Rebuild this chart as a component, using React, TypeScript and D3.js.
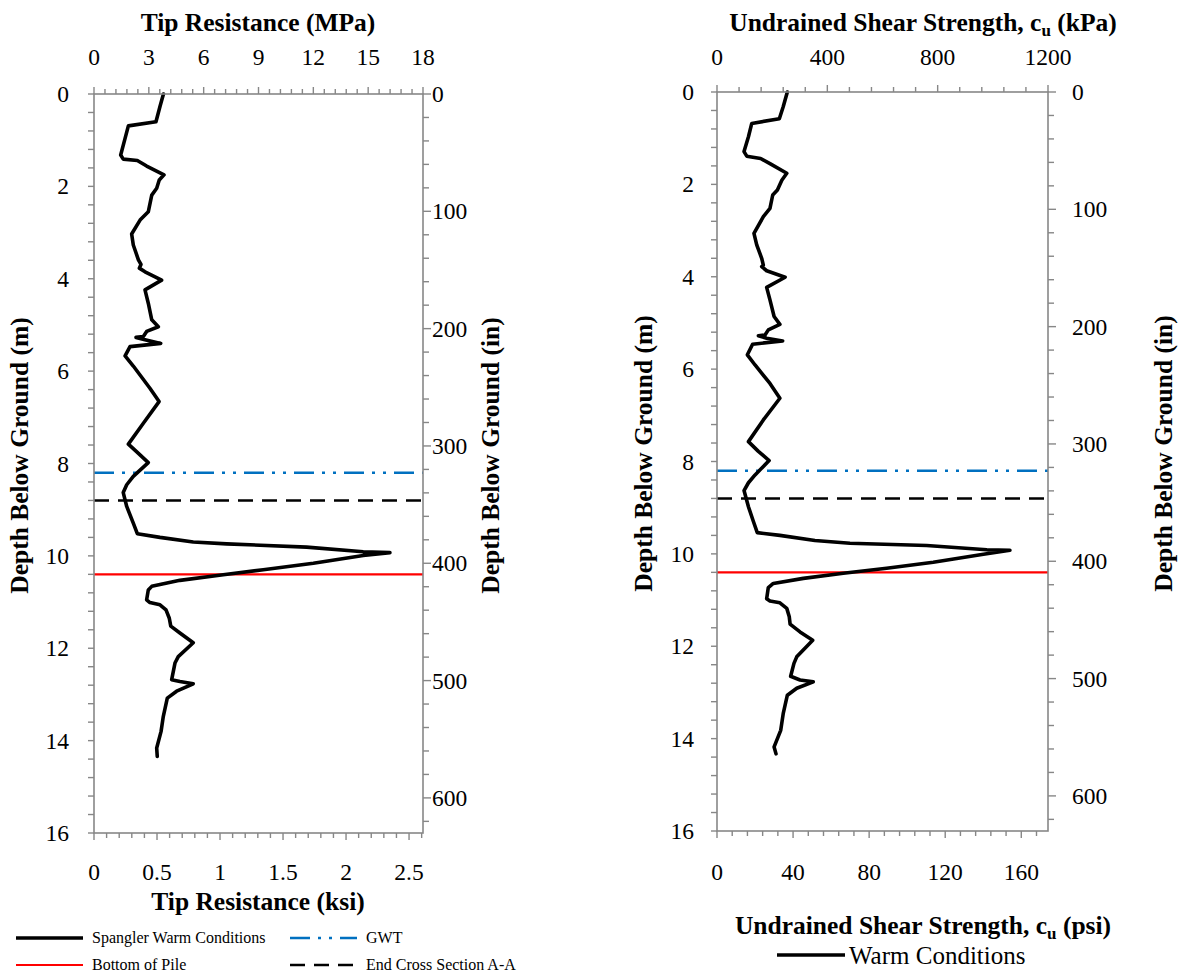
import React from 'react';
import * as d3 from 'd3';

// ---- Data ----
const tipDepth = [0.0, 0.27, 0.6, 0.69, 0.96, 1.32, 1.41, 1.44, 1.56, 1.75, 1.86, 2.04, 2.19, 2.55, 2.73, 3.03, 3.27, 3.59, 3.69, 3.77, 3.85, 4.03, 4.24, 4.53, 4.89, 5.04, 5.14, 5.25, 5.27, 5.32, 5.4, 5.47, 5.67, 5.89, 6.37, 6.66, 7.13, 7.58, 7.78, 7.98, 8.28, 8.46, 8.63, 8.93, 9.29, 9.52, 9.6, 9.7, 9.74, 9.81, 9.91, 9.93, 9.99, 10.16, 10.3, 10.41, 10.53, 10.66, 10.74, 10.95, 11.01, 11.06, 11.17, 11.35, 11.52, 11.67, 11.88, 12.18, 12.32, 12.68, 12.72, 12.77, 12.93, 13.08, 13.48, 13.8, 14.16, 14.34];
const tipMPa = [3.8, 3.61, 3.39, 1.88, 1.7, 1.46, 1.6, 2.37, 2.88, 3.83, 3.57, 3.43, 3.16, 2.97, 2.52, 2.06, 2.15, 2.43, 2.57, 2.48, 2.79, 3.7, 2.79, 2.97, 3.16, 3.52, 2.88, 2.7, 2.3, 2.79, 3.65, 1.97, 1.7, 2.15, 3.06, 3.56, 2.7, 1.88, 2.43, 2.97, 2.15, 1.79, 1.6, 1.79, 2.15, 2.37, 3.61, 5.43, 7.26, 11.63, 14.73, 16.19, 14.73, 12.0, 9.26, 7.07, 4.7, 3.16, 2.97, 2.88, 3.06, 3.61, 3.94, 4.12, 4.2, 4.7, 5.43, 4.61, 4.43, 4.25, 4.7, 5.43, 4.52, 4.01, 3.79, 3.67, 3.43, 3.46];

const cuDepth = [0.0, 0.32, 0.58, 0.68, 0.97, 1.29, 1.39, 1.44, 1.55, 1.76, 1.91, 2.12, 2.23, 2.52, 2.7, 3.06, 3.31, 3.6, 3.75, 3.78, 3.87, 4.01, 4.23, 4.5, 4.86, 5.03, 5.15, 5.26, 5.28, 5.33, 5.39, 5.46, 5.69, 5.91, 6.31, 6.63, 7.1, 7.57, 7.78, 7.98, 8.29, 8.46, 8.63, 8.98, 9.3, 9.54, 9.6, 9.71, 9.77, 9.82, 9.91, 9.92, 10.01, 10.18, 10.31, 10.42, 10.53, 10.64, 10.73, 10.97, 11.02, 11.06, 11.18, 11.36, 11.52, 11.69, 11.87, 12.23, 12.37, 12.65, 12.73, 12.77, 12.91, 13.06, 13.46, 13.82, 14.18, 14.33];
const cuKPa = [255, 240, 226, 126, 114, 98, 108, 158, 192, 253, 235, 219, 202, 192, 168, 134, 144, 162, 168, 162, 180, 247, 180, 192, 207, 228, 186, 174, 150, 180, 238, 129, 110, 138, 192, 228, 168, 114, 150, 189, 138, 114, 98, 114, 132, 146, 228, 355, 482, 760, 978, 1062, 966, 784, 615, 458, 313, 204, 186, 180, 192, 228, 253, 262, 265, 301, 347, 289, 279, 267, 301, 349, 289, 255, 240, 231, 207, 214];

const gwtDepth = 8.2;
const endSectionDepth = 8.8;
const pileBottomDepth = 10.4;

const depthLabels = [0, 2, 4, 6, 8, 10, 12, 14, 16];
const inchLabels = [0, 100, 200, 300, 400, 500, 600];
const mpaLabels = [0, 3, 6, 9, 12, 15, 18];
const ksiLabels = [0, 0.5, 1, 1.5, 2, 2.5];
const kpaLabels = [0, 400, 800, 1200];
const psiLabels = [0, 40, 80, 120, 160];

const legendLeft = [
  { label: 'Spangler Warm Conditions', kind: 'curve' },
  { label: 'GWT', kind: 'gwt' },
  { label: 'Bottom of Pile', kind: 'pile' },
  { label: 'End Cross Section A-A', kind: 'end' },
];

const FONT = 'Liberation Serif, Times New Roman, Times, DejaVu Serif, Noto Serif, serif';
const AX = '#878787';
const BLUE = '#0070C0';
const RED = '#FF0000';
const M_TO_IN = 1 / 0.0254;
const MPA_TO_KSI = 0.145038;
const KPA_TO_PSI = 0.145038;
const TICK_FS = 23.5;
const TITLE_FS = 25.5;

const lineStyles: Record<string, any> = {
  curve: { stroke: '#000', strokeWidth: 3.5 },
  gwt: { stroke: BLUE, strokeWidth: 2.5, strokeDasharray: '20 8 3 8 3 8' },
  pile: { stroke: RED, strokeWidth: 2.2 },
  end: { stroke: '#000', strokeWidth: 2.5, strokeDasharray: '15 9' },
};

type PanelProps = {
  x0: number; x1: number; y0: number; y1: number;
  depth: number[]; vals: number[];
  topMax: number; topLabels: number[]; topMinor: number; topTitle: React.ReactNode; titleX: number;
  botMax: number; botLabels: number[]; botMinor: number; botTitle?: React.ReactNode; botFmt: (v: number) => string;
  leftLabelX: number; rightLabelX: number; leftTitleX: number; rightTitleX: number;
};

function Panel(p: PanelProps) {
  const y = d3.scaleLinear().domain([0, 16]).range([p.y0, p.y1]);
  const yIn = d3.scaleLinear().domain([0, 16 * M_TO_IN]).range([p.y0, p.y1]);
  const xTop = d3.scaleLinear().domain([0, p.topMax]).range([p.x0, p.x1]);
  const xBot = d3.scaleLinear().domain([0, p.botMax]).range([p.x0, p.x1]);
  const line = d3.line<number>().x((v) => xTop(v)).y((_, i) => y(p.depth[i]));

  const topTicks: number[] = [];
  for (let i = 0; i * p.topMinor <= p.topMax + 1e-9; i++) topTicks.push(i * p.topMinor);
  const botTicks: number[] = [];
  for (let i = 0; i * p.botMinor <= p.botMax + 1e-9; i++) botTicks.push(i * p.botMinor);
  const depthTicks: number[] = [];
  for (let i = 0; i <= 40; i++) depthTicks.push(i * 0.4);
  const inTicks: number[] = [];
  for (let i = 0; i * 20 <= 16 * M_TO_IN; i++) inTicks.push(i * 20);

  const isMajor = (v: number, labels: number[]) => labels.some((l) => Math.abs(l - v) < 1e-6);
  const hline = (d: number, kind: string) => (
    <line x1={p.x0} x2={p.x1} y1={y(d)} y2={y(d)} {...lineStyles[kind]} />
  );
  const midY = (p.y0 + p.y1) / 2 - 8;

  return (
    <g style={{ fontFamily: FONT }} fill="#000">
      {hline(gwtDepth, 'gwt')}
      {hline(endSectionDepth, 'end')}
      {hline(pileBottomDepth, 'pile')}
      <path d={line(p.vals) || ''} fill="none" stroke="#000" strokeWidth={3.6} strokeLinejoin="round" strokeLinecap="round" />
      <rect x={p.x0} y={p.y0} width={p.x1 - p.x0} height={p.y1 - p.y0} fill="none" stroke={AX} strokeWidth={1.6} />
      {topTicks.map((v) => (
        <line key={'t' + v} x1={xTop(v)} x2={xTop(v)} y1={p.y0} y2={p.y0 - (isMajor(v, p.topLabels) ? 7 : 5)} stroke={AX} strokeWidth={1.4} />
      ))}
      {p.topLabels.map((v) => (
        <text key={'tl' + v} x={xTop(v)} y={65} fontSize={TICK_FS} textAnchor="middle">{v}</text>
      ))}
      <text x={p.titleX} y={31} fontSize={TITLE_FS} fontWeight="bold" textAnchor="middle">{p.topTitle}</text>
      {botTicks.map((v) => (
        <line key={'b' + v} x1={xBot(v)} x2={xBot(v)} y1={p.y1} y2={p.y1 + (isMajor(v, p.botLabels) ? 7 : 5)} stroke={AX} strokeWidth={1.4} />
      ))}
      {p.botLabels.map((v) => (
        <text key={'bl' + v} x={xBot(v)} y={880} fontSize={TICK_FS} textAnchor="middle">{p.botFmt(v)}</text>
      ))}
      {p.botTitle}
      {depthTicks.map((v) => (
        <line key={'l' + v} x1={p.x0} x2={p.x0 - 6} y1={y(v)} y2={y(v)} stroke={AX} strokeWidth={1.4} />
      ))}
      {depthLabels.map((v) => (
        <text key={'ll' + v} x={p.leftLabelX} y={y(v) + 8} fontSize={TICK_FS} textAnchor="end">{v}</text>
      ))}
      <text transform={`translate(${p.leftTitleX},${midY}) rotate(-90)`} fontSize={TITLE_FS} fontWeight="bold" textAnchor="middle">Depth Below Ground (m)</text>
      {inTicks.map((v) => (
        <line key={'r' + v} x1={p.x1} x2={p.x1 + (isMajor(v, inchLabels) ? 8 : 6)} y1={yIn(v)} y2={yIn(v)} stroke={AX} strokeWidth={1.4} />
      ))}
      {inchLabels.map((v) => (
        <text key={'rl' + v} x={p.rightLabelX} y={yIn(v) + 8} fontSize={TICK_FS} textAnchor="start">{v}</text>
      ))}
      <text transform={`translate(${p.rightTitleX},${midY}) rotate(-90)`} fontSize={TITLE_FS} fontWeight="bold" textAnchor="middle">Depth Below Ground (in)</text>
    </g>
  );
}

export default function App() {
  return (
    <svg width={1179} height={974} style={{ display: 'block', position: 'absolute', left: 0, top: 0, fontFamily: FONT }}>
      <rect width={1179} height={974} fill="#fff" />
      <Panel
        x0={94} x1={423} y0={94} y1={833}
        depth={tipDepth} vals={tipMPa}
        topMax={18} topLabels={mpaLabels} topMinor={0.6}
        topTitle={<tspan>Tip Resistance (MPa)</tspan>} titleX={258}
        botMax={18 * MPA_TO_KSI} botLabels={ksiLabels} botMinor={0.1}
        botFmt={(v) => String(v)}
        botTitle={<text x={258} y={910} fontSize={TITLE_FS} fontWeight="bold" textAnchor="middle">Tip Resistance (ksi)</text>}
        leftLabelX={69} rightLabelX={432} leftTitleX={28} rightTitleX={499}
      />
      <Panel
        x0={717} x1={1048} y0={92} y1={831}
        depth={cuDepth} vals={cuKPa}
        topMax={1200} topLabels={kpaLabels} topMinor={80}
        topTitle={<>Undrained Shear Strength, c<tspan fontSize={17} dy={5}>u</tspan><tspan dy={-5}> (kPa)</tspan></>} titleX={923}
        botMax={1200 * KPA_TO_PSI} botLabels={psiLabels} botMinor={8}
        botFmt={(v) => String(v)}
        botTitle={<text x={923} y={934} fontSize={TITLE_FS} fontWeight="bold" textAnchor="middle">Undrained Shear Strength, c<tspan fontSize={17} dy={5}>u</tspan><tspan dy={-5}> (psi)</tspan></text>}
        leftLabelX={694} rightLabelX={1072} leftTitleX={652} rightTitleX={1172}
      />
      <g fontSize={16}>
        {legendLeft.map((l, i) => {
          const col = i % 2;
          const row = Math.floor(i / 2);
          const lx = col === 0 ? 16 : 290;
          const ly = row === 0 ? 938 : 965;
          return (
            <g key={l.label}>
              <line x1={lx} x2={lx + 67} y1={ly} y2={ly} {...lineStyles[l.kind]} />
              <text x={lx + 76} y={ly + 5}>{l.label}</text>
            </g>
          );
        })}
      </g>
      <g>
        <line x1={777} x2={845} y1={955} y2={955} stroke="#000" strokeWidth={3.5} />
        <text x={849} y={964} fontSize={25}>Warm Conditions</text>
      </g>
    </svg>
  );
}
